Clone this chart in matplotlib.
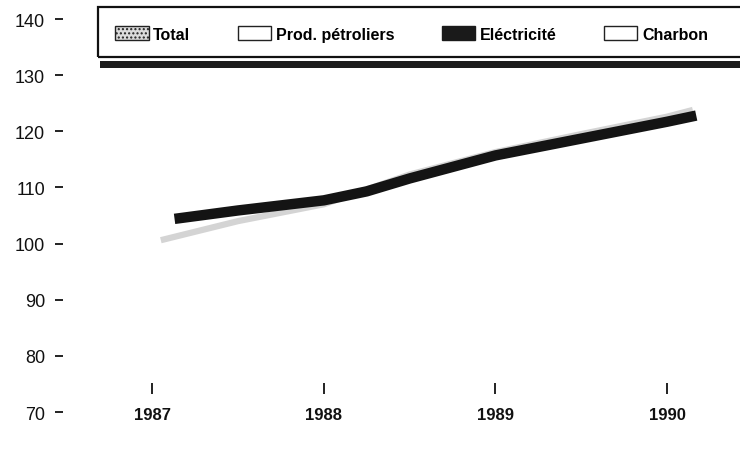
import matplotlib
matplotlib.use("Agg")
import matplotlib.pyplot as plt
from matplotlib.patches import Patch, Rectangle

plt.rcParams['font.family'] = ['Liberation Sans', 'DejaVu Sans']

# series
years_total = [1987.05, 1987.5, 1988.0, 1988.5, 1989.0, 1989.5, 1990.0, 1990.15]
total = [100.6, 104.0, 107.0, 112.3, 116.3, 119.5, 122.6, 123.8]

years_elec = [1987.13, 1987.5, 1988.0, 1988.25, 1988.5, 1989.0, 1989.5, 1990.0, 1990.17]
elec = [104.4, 105.9, 107.7, 109.3, 111.6, 115.7, 118.7, 121.7, 122.8]

year_ticks = [1987, 1988, 1989, 1990]
y_ticks = [70, 80, 90, 100, 110, 120, 130, 140]
legend_labels = ['Total', 'Prod. pétroliers', 'Eléctricité', 'Charbon']

fig = plt.figure(figsize=(7.4, 4.52), dpi=100)
ax = fig.add_axes([63 / 740, 39 / 452, 1 - 63 / 740, 393 / 452])

ax.plot(years_total, total, color='#d4d4d4', lw=4.5, solid_capstyle='butt')
ax.plot(years_elec, elec, color='#141414', lw=7.5, solid_capstyle='butt')

ax.set_xlim(1986.48, 1990.425)
ax.set_ylim(70, 140)
for s in ax.spines.values():
    s.set_visible(False)

ax.set_xticks([])
ax.set_yticks(y_ticks)
ax.set_yticklabels([str(v) for v in y_ticks], fontsize=13, color='#111')
ax.tick_params(axis='y', direction='out', length=6, width=1.4, pad=7, color='#222')

# x ticks float a little above the bottom of the frame
sec = ax.secondary_xaxis(0.074)
sec.spines['bottom'].set_visible(False)
sec.set_xticks(year_ticks)
sec.set_xticklabels([str(y) for y in year_ticks], fontsize=12, fontweight='bold', color='#111')
sec.tick_params(axis='x', direction='out', length=8, width=1.4, pad=9, color='#222')

handles = [
    Patch(facecolor='#dcdcdc', edgecolor='#222', hatch='....', lw=1),
    Patch(facecolor='white', edgecolor='#222', lw=1),
    Patch(facecolor='#1a1a1a', edgecolor='#1a1a1a', lw=1),
    Patch(facecolor='white', edgecolor='#222', lw=1),
]
leg = fig.legend(handles, legend_labels, loc='center left', bbox_to_anchor=(115 / 740, 1 - 35 / 452),
                 ncol=4, fontsize=11.5, frameon=False, handlelength=2.1,
                 handleheight=0.9, handletextpad=0.3, columnspacing=2.95, borderpad=0,
                 borderaxespad=0)
for t in leg.get_texts():
    t.set_fontweight('bold')

# legend box runs off the right edge, with a dark band printed under it
fig.add_artist(Rectangle((98 / 740, 1 - 58 / 452), 660 / 740, 50 / 452, transform=fig.transFigure,
                         facecolor='none', edgecolor='#111', lw=1.6))
fig.add_artist(Rectangle((100 / 740, 1 - 69 / 452), 640 / 740, 7 / 452,
                         transform=fig.transFigure, color='#1c1c1c', lw=0))

fig.savefig('out.png', dpi=100, facecolor='white')
